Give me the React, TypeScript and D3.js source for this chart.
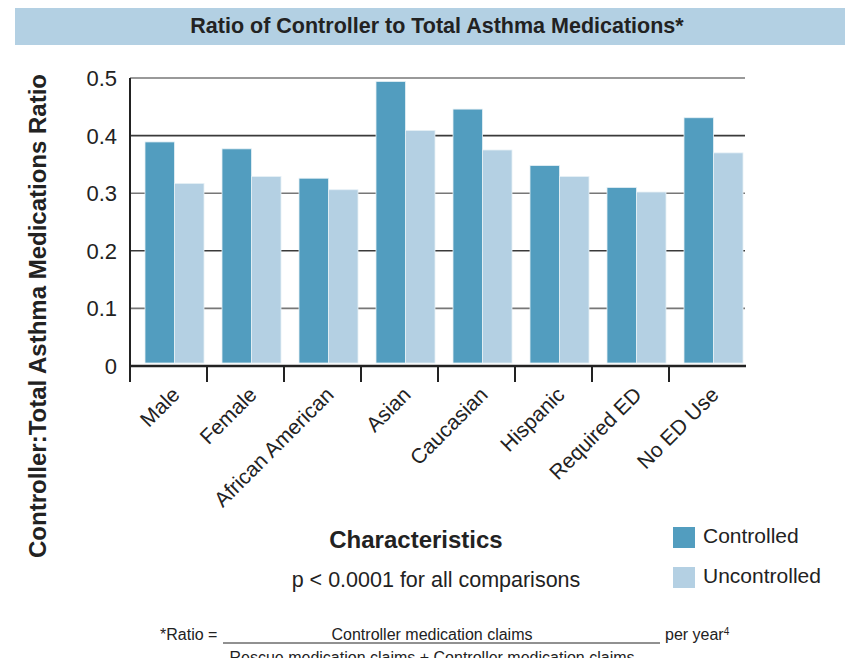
import React, { useEffect, useRef } from 'react';
import * as d3 from 'd3';

const categories = ['Male', 'Female', 'African American', 'Asian', 'Caucasian', 'Hispanic', 'Required ED', 'No ED Use'];
const controlled = [0.389, 0.377, 0.326, 0.494, 0.446, 0.348, 0.31, 0.431];
const uncontrolled = [0.317, 0.329, 0.306, 0.409, 0.375, 0.329, 0.302, 0.37];
const seriesNames = ['Controlled', 'Uncontrolled'];
const yTicks = [0, 0.1, 0.2, 0.3, 0.4, 0.5];

const colors = ['#529dbf', '#b4d0e3'];
const FONT = "'Liberation Sans', Arial, sans-serif";

const App: React.FC = () => {
    const ref = useRef<SVGSVGElement>(null);

    useEffect(() => {
        const svg = d3.select(ref.current);
        svg.selectAll('*').remove();

        const left = 130, right = 746, top = 78, bottom = 366;

        // title banner
        svg.append('rect').attr('x', 15).attr('y', 8).attr('width', 830).attr('height', 37).attr('fill', '#b3d0e3');
        svg.append('text').attr('x', 437).attr('y', 33).attr('text-anchor', 'middle')
            .attr('font-family', FONT).attr('font-weight', 'bold').attr('font-size', 21.5).attr('fill', '#222')
            .text('Ratio of Controller to Total Asthma Medications*');

        const x0 = d3.scaleBand().domain(categories).range([left, right]);
        const x1 = d3.scaleBand().domain(seriesNames).range([0, 59]);
        const y = d3.scaleLinear().domain([0, 0.5]).range([bottom, top]);
        const barOffset = 15;

        // gridlines
        svg.append('g').selectAll('line').data(yTicks.slice(1)).enter().append('line')
            .attr('x1', left).attr('x2', right - 1)
            .attr('y1', d => y(d)).attr('y2', d => y(d))
            .attr('stroke', (d, i) => (i % 2 === 0 ? '#777' : '#3a3a3a'))
            .attr('stroke-width', 1.6);

        // bars
        const rows = categories.map((c, i) => ({ c, vals: [controlled[i], uncontrolled[i]] }));
        svg.append('g').selectAll('g').data(rows).enter().append('g')
            .attr('transform', d => `translate(${(x0(d.c) as number) + barOffset},0)`)
            .selectAll('rect')
            .data(d => d.vals.map((v, k) => ({ key: seriesNames[k], v, k })))
            .enter().append('rect')
            .attr('x', d => x1(d.key) as number)
            .attr('y', d => y(d.v))
            .attr('width', x1.bandwidth())
            .attr('height', d => bottom - 3 - y(d.v))
            .attr('fill', d => colors[d.k])
            .attr('stroke', '#e6f0f6').attr('stroke-width', 0.8);

        // axes lines
        svg.append('line').attr('x1', left).attr('x2', left).attr('y1', top).attr('y2', bottom)
            .attr('stroke', '#222').attr('stroke-width', 2);
        svg.append('line').attr('x1', left - 1).attr('x2', right).attr('y1', bottom).attr('y2', bottom)
            .attr('stroke', '#222').attr('stroke-width', 2.5);

        // x ticks
        const tickPos = categories.map(c => x0(c) as number);
        svg.append('g').selectAll('line').data(tickPos).enter().append('line')
            .attr('x1', d => d).attr('x2', d => d).attr('y1', bottom).attr('y2', bottom + 16)
            .attr('stroke', '#222').attr('stroke-width', 2);

        // y tick labels
        svg.append('g').selectAll('text').data(yTicks).enter().append('text')
            .attr('x', 117).attr('y', d => y(d) + 8).attr('text-anchor', 'end')
            .attr('font-family', FONT).attr('font-size', 22).attr('fill', '#222')
            .text(d => (d === 0 ? '0' : d3.format('.1f')(d)));

        // x labels
        svg.append('g').selectAll('text').data(categories).enter().append('text')
            .attr('transform', c => `translate(${(x0(c) as number) + barOffset + 36},${bottom + 30}) rotate(-45)`)
            .attr('text-anchor', 'end')
            .attr('font-family', FONT).attr('font-size', 21).attr('fill', '#222')
            .text(c => c);

        // axis titles
        svg.append('text').attr('transform', 'translate(46,316) rotate(-90)').attr('text-anchor', 'middle')
            .attr('font-family', FONT).attr('font-weight', 'bold').attr('font-size', 24).attr('fill', '#222')
            .text('Controller:Total Asthma Medications Ratio');
        svg.append('text').attr('x', 416).attr('y', 548).attr('text-anchor', 'middle')
            .attr('font-family', FONT).attr('font-weight', 'bold').attr('font-size', 24).attr('fill', '#222')
            .text('Characteristics');
        svg.append('text').attr('x', 436).attr('y', 587).attr('text-anchor', 'middle')
            .attr('font-family', FONT).attr('font-size', 21.5).attr('fill', '#222')
            .text('p < 0.0001 for all comparisons');

        // legend
        const legend = svg.append('g').selectAll('g').data(seriesNames).enter().append('g')
            .attr('transform', (d, i) => `translate(673,${527 + i * 40})`);
        legend.append('rect').attr('width', 22).attr('height', 21).attr('fill', (d, i) => colors[i]);
        legend.append('text').attr('x', 30).attr('y', 16)
            .attr('font-family', FONT).attr('font-size', 21).attr('fill', '#222')
            .text(d => d);

        // footnote
        const foot = svg.append('g').attr('font-family', FONT).attr('font-size', 16).attr('fill', '#222');
        foot.append('text').attr('x', 160).attr('y', 640).text('*Ratio =');
        foot.append('line').attr('x1', 223).attr('x2', 660).attr('y1', 643).attr('y2', 643)
            .attr('stroke', '#222').attr('stroke-width', 1);
        foot.append('text').attr('x', 432).attr('y', 640).attr('text-anchor', 'middle').text('Controller medication claims');
        const per = foot.append('text').attr('x', 665).attr('y', 640).text('per year');
        per.append('tspan').attr('font-size', 10).attr('dy', -5).text('4');
        foot.append('text').attr('x', 432).attr('y', 663).attr('text-anchor', 'middle')
            .text('Rescue medication claims + Controller medication claims');
    }, []);

    return (
        <svg ref={ref} width={845} height={658}
            style={{ position: 'absolute', left: 0, top: 0, background: '#fff' }} />
    );
};

export default App;
